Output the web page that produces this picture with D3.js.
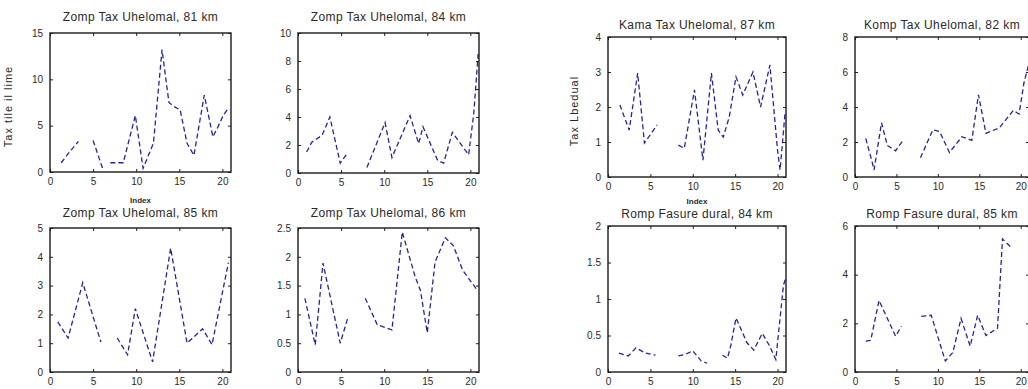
<!DOCTYPE html>
<html><head><meta charset="utf-8">
<script src="https://cdn.jsdelivr.net/npm/d3@7"></script>
<style>
body{margin:0;background:#fff;overflow:hidden}
svg{display:block}
text{font-family:"Liberation Sans",Arial,sans-serif;fill:#2a2a2a}
</style>
</head><body>
<svg id="chart" width="1028" height="389"></svg>
<script>
// ---- data ----
const xTicks = [0, 5, 10, 15, 20];
const titles = [
  "Zomp Tax Uhelomal, 81 km", "Zomp Tax Uhelomal, 84 km",
  "Kama Tax Uhelomal, 87 km", "Komp Tax Uhelomal, 82 km",
  "Zomp Tax Uhelomal, 85 km", "Zomp Tax Uhelomal, 86 km",
  "Romp Fasure dural, 84 km", "Romp Fasure dural, 85 km"
];
const yLabels = ["Tax tile il lime", "", "Tax Lbedual", "", "", "", "", ""];
const xLabels = ["Index", "", "Index", "", "", "", "", ""];
const yTicks = [
  [0, 5, 10, 15], [0, 2, 4, 6, 8, 10],
  [0, 1, 2, 3, 4], [0, 2, 4, 6, 8],
  [0, 1, 2, 3, 4, 5], [0, 0.5, 1, 1.5, 2, 2.5],
  [0, 0.5, 1, 1.5, 2], [0, 2, 4, 6]
];
const yMax = [15, 10, 4, 8, 5, 2.5, 2, 6];
const xMax = 21;

const p1X = [1.3, 2.3, 3.3, 4.1, 5.0, 6.1, 6.5, 7.0, 8.5, 9.9, 10.8, 12.0, 13.0, 13.8, 14.5, 15.1, 15.5, 15.9, 16.7, 17.9, 18.9, 19.5, 20.1, 20.7];
const p1Y = [1.0, 2.2, 3.3, null, 3.4, 0.4, null, 1.0, 1.0, 6.1, 0.4, 3.1, 13.2, 7.5, 7.0, 6.7, 4.9, 3.1, 1.8, 8.3, 3.8, 4.9, 6.1, 6.9];
const p2X = [1.0, 1.6, 2.8, 3.7, 4.9, 5.7, 6.5, 8.0, 10.1, 10.9, 13.0, 14.0, 14.5, 16.2, 16.9, 17.9, 19.8, 20.4, 20.9];
const p2Y = [1.5, 2.2, 2.7, 4.0, 0.7, 1.4, null, 0.4, 3.6, 1.1, 4.1, 2.1, 3.3, 0.9, 0.7, 2.9, 1.3, 4.3, 8.5];
const p3X = [1.4, 2.5, 3.5, 4.3, 5.8, 7.0, 8.3, 9.0, 10.2, 11.2, 12.2, 13.0, 13.6, 14.3, 15.1, 15.9, 17.1, 18.0, 19.1, 20.0, 20.3, 20.9];
const p3Y = [2.06, 1.34, 2.97, 0.97, 1.49, null, 0.91, 0.82, 2.49, 0.48, 2.97, 1.34, 1.14, 1.71, 2.86, 2.34, 3.0, 2.0, 3.2, 0.77, 0.2, 1.86];
const p4X = [1.3, 2.1, 2.3, 3.2, 3.9, 4.9, 5.8, 7.0, 7.9, 9.4, 10.2, 11.4, 12.9, 14.1, 14.9, 15.8, 17.4, 19.1, 19.8, 20.4, 21.0];
const p4Y = [2.2, 0.8, 0.4, 3.1, 1.8, 1.5, 2.1, null, 1.1, 2.7, 2.6, 1.4, 2.3, 2.1, 4.7, 2.5, 2.8, 3.8, 3.6, 5.4, 6.5];
const p5X = [0.9, 2.1, 3.8, 5.9, 6.8, 7.8, 9.0, 9.9, 11.9, 14.0, 15.9, 17.7, 18.8, 20.7];
const p5Y = [1.74, 1.18, 3.1, 1.04, null, 1.18, 0.6, 2.2, 0.35, 4.3, 1.0, 1.5, 0.95, 3.8];
const p6X = [0.8, 2.0, 2.9, 4.9, 5.8, 6.8, 7.8, 9.2, 10.9, 12.1, 13.6, 14.2, 15.0, 15.9, 17.1, 18.0, 19.1, 20.8];
const p6Y = [1.28, 0.47, 1.89, 0.5, 0.95, null, 1.28, 0.82, 0.73, 2.43, 1.65, 1.42, 0.68, 1.91, 2.33, 2.2, 1.77, 1.42];
const p7X = [1.3, 2.4, 3.3, 4.4, 5.6, 7.0, 8.3, 9.1, 10.0, 11.0, 11.7, 12.5, 13.5, 14.1, 14.5, 15.1, 16.4, 17.2, 18.2, 19.0, 19.8, 20.7, 21.0];
const p7Y = [0.26, 0.22, 0.33, 0.26, 0.23, null, 0.22, 0.24, 0.29, 0.15, 0.12, null, 0.23, 0.19, 0.37, 0.74, 0.4, 0.3, 0.53, 0.37, 0.17, 1.19, 1.3];
const p8X = [1.3, 1.9, 2.9, 4.9, 5.6, 7.0, 8.0, 9.2, 10.9, 11.8, 12.8, 13.9, 14.8, 15.8, 17.2, 17.8, 18.8];
const p8Y = [1.27, 1.3, 2.94, 1.47, 1.88, null, 2.29, 2.33, 0.45, 0.8, 2.2, 1.06, 2.33, 1.5, 1.8, 5.47, 5.14];

const seriesX = [p1X, p2X, p3X, p4X, p5X, p6X, p7X, p8X];
const seriesY = [p1Y, p2Y, p3Y, p4Y, p5Y, p6Y, p7Y, p8Y];

// ---- layout (pixels) ----
const boxes = [
  {l: 50,  t: 33,  r: 231,  b: 172, tt: 12, yl: 12,  xl: 203},
  {l: 298, t: 33,  r: 479,  b: 173, tt: 12},
  {l: 608, t: 37,  r: 786,  b: 177, tt: 8,  yl: 578, xl: 204},
  {l: 855, t: 37,  r: 1029, b: 177, tt: 8},
  {l: 50,  t: 228, r: 231,  b: 372, tt: 11},
  {l: 298, t: 228, r: 479,  b: 372, tt: 11},
  {l: 608, t: 226, r: 786,  b: 372, tt: 8},
  {l: 855, t: 226, r: 1029, b: 372, tt: 8}
];

const svg = d3.select("#chart");
svg.append("rect").attr("width", 1028).attr("height", 389).attr("fill", "#fff");

boxes.forEach((bx, i) => {
  const x = d3.scaleLinear().domain([0, xMax]).range([bx.l, bx.r]);
  const y = d3.scaleLinear().domain([0, yMax[i]]).range([bx.b, bx.t]);
  const g = svg.append("g");

  // data line
  const line = d3.line()
    .defined((d, k) => seriesY[i][k] !== null)
    .x((d, k) => x(seriesX[i][k]))
    .y((d, k) => y(seriesY[i][k]));
  g.append("path")
    .datum(seriesX[i])
    .attr("d", line)
    .attr("fill", "none")
    .attr("stroke", "#24249e")
    .attr("stroke-width", 1.3)
    .attr("stroke-dasharray", "5,3");

  // axes (inward ticks, MATLAB style)
  const ax = g.append("g");
  ax.append("g").attr("transform", `translate(0,${bx.b})`)
    .call(d3.axisBottom(x).tickValues(xTicks).tickSizeInner(-3).tickSizeOuter(0).tickPadding(6).tickFormat(d3.format("d")));
  ax.append("g").attr("transform", `translate(0,${bx.t})`)
    .call(d3.axisTop(x).tickValues(xTicks).tickSizeInner(-3).tickSizeOuter(0).tickFormat(""));
  ax.append("g").attr("transform", `translate(${bx.l},0)`)
    .call(d3.axisLeft(y).tickValues(yTicks[i]).tickSizeInner(-3).tickSizeOuter(0).tickPadding(7).tickFormat(d => d3.format("~g")(d)));
  ax.append("g").attr("transform", `translate(${bx.r},0)`)
    .call(d3.axisRight(y).tickValues(yTicks[i]).tickSizeInner(-3).tickSizeOuter(0).tickFormat(""));
  ax.selectAll(".domain").remove();
  ax.selectAll(".tick line").attr("stroke", "#222");
  ax.selectAll(".tick text").attr("font-size", 10).attr("fill", "#2a2a2a")
    .attr("font-family", "'Liberation Sans', Arial, sans-serif");

  // frame
  g.append("rect")
    .attr("x", bx.l).attr("y", bx.t)
    .attr("width", bx.r - bx.l).attr("height", bx.b - bx.t)
    .attr("fill", "none").attr("stroke", "#1a1a1a").attr("stroke-width", 1.4);

  // title
  const cx = (bx.l + bx.r) / 2;
  g.append("text").attr("x", cx).attr("y", bx.t - bx.tt)
    .attr("text-anchor", "middle").attr("font-size", 12)
    .attr("letter-spacing", 0.4).text(titles[i]);

  // y label
  if (yLabels[i]) {
    const ly = (bx.t + bx.b) / 2 + 4;
    g.append("text").attr("transform", `translate(${bx.yl},${ly}) rotate(-90)`)
      .attr("text-anchor", "middle").attr("font-size", 11)
      .attr("letter-spacing", 1).text(yLabels[i]);
  }
  // x label
  if (xLabels[i]) {
    g.append("text").attr("x", cx).attr("y", bx.xl)
      .attr("text-anchor", "middle").attr("font-size", 8).attr("font-weight", "bold").text(xLabels[i]);
  }
});
</script>
</body></html>
